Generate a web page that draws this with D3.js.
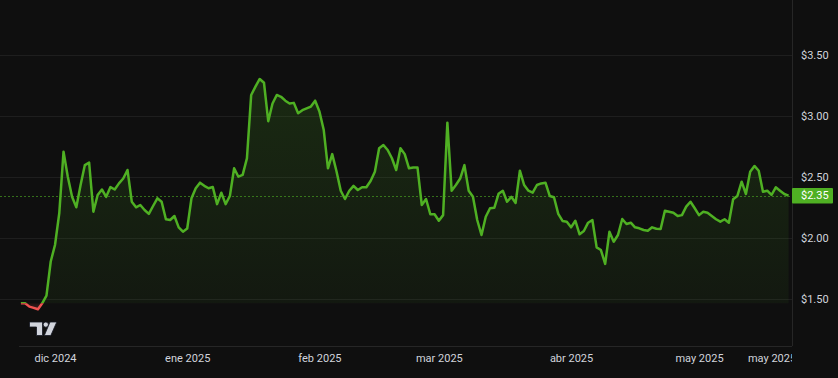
<!DOCTYPE html>
<html>
<head>
<meta charset="utf-8">
<script src="https://cdn.jsdelivr.net/npm/d3@7"></script>
<style>
  html, body { margin: 0; padding: 0; background: #0f0f0f; }
  #chart { width: 838px; height: 378px; }
</style>
</head>
<body>
<div id="chart"></div>
<script>
const width = 838;
const height = 378;
const plotRight = 792;
const plotBottom = 346;

// daily closes, first day = 23 nov 2024
const startDay = new Date(2024, 10, 23);
const prices = [
  1.467, 1.467, 1.44, 1.43, 1.418, 1.467, 1.53, 1.81, 1.945, 2.205,
  2.71, 2.505, 2.34, 2.254, 2.437, 2.60, 2.62, 2.218, 2.355, 2.40,
  2.34, 2.42, 2.40, 2.45, 2.49, 2.56, 2.30, 2.254, 2.273, 2.232,
  2.20, 2.265, 2.328, 2.30, 2.156, 2.15, 2.183, 2.09, 2.054, 2.08,
  2.328, 2.41, 2.456, 2.43, 2.41, 2.42, 2.28, 2.374, 2.28, 2.347,
  2.574, 2.505, 2.52, 2.655, 3.175, 3.243, 3.306, 3.275, 2.96, 3.105,
  3.175, 3.16, 3.128, 3.105, 3.11, 3.025, 3.05, 3.065, 3.08, 3.128,
  3.04, 2.89, 2.574, 2.69, 2.55, 2.39, 2.322, 2.39, 2.43, 2.396,
  2.418, 2.418, 2.47, 2.546, 2.738, 2.765, 2.724, 2.656, 2.56, 2.738,
  2.69, 2.574, 2.58, 2.58, 2.273, 2.322, 2.197, 2.197, 2.144, 2.19,
  2.948, 2.39, 2.437, 2.49, 2.60, 2.39, 2.34, 2.15, 2.027, 2.177,
  2.246, 2.25, 2.365, 2.39, 2.30, 2.34, 2.29, 2.554, 2.437, 2.39,
  2.374, 2.437, 2.45, 2.456, 2.347, 2.336, 2.20, 2.142, 2.136, 2.09,
  2.144, 2.033, 2.06, 2.128, 2.15, 1.926, 1.904, 1.79, 2.054, 1.972,
  2.027, 2.158, 2.117, 2.128, 2.09, 2.082, 2.068, 2.062, 2.09, 2.078,
  2.076, 2.226, 2.218, 2.21, 2.183, 2.19, 2.26, 2.30, 2.246, 2.19,
  2.218, 2.21, 2.183, 2.156, 2.136, 2.156, 2.128, 2.32, 2.347, 2.464,
  2.363, 2.546, 2.593, 2.554, 2.382, 2.39, 2.355, 2.418, 2.39, 2.363,
  2.35
];

const priceTicks = [1.5, 2.0, 2.5, 3.0, 3.5];
const timeTicks = [
  new Date(2024, 11, 1), new Date(2025, 0, 1), new Date(2025, 1, 1),
  new Date(2025, 2, 1), new Date(2025, 3, 1), new Date(2025, 4, 1),
  new Date(2025, 4, 18)
];
const timeLabels = ["dic 2024", "ene 2025", "feb 2025", "mar 2025", "abr 2025", "may 2025", "may 2025"];

const data = prices.map((p, i) => ({ date: d3.timeDay.offset(startDay, i), price: p }));
const base = prices[0];
const last = prices[prices.length - 1];

const green = "#4fb023";
const red = "#ef5350";
const font = "Roboto, 'DejaVu Sans', sans-serif";

const x = d3.scaleTime()
  .domain([new Date(2024, 11, 1), new Date(2025, 4, 1)])
  .range([55, 699]);

const y = d3.scaleLinear()
  .domain([1.5, 3.5])
  .range([299.3, 55.3]);

const svg = d3.select("#chart")
  .append("svg")
  .attr("width", width)
  .attr("height", height)
  .style("font-family", font);

svg.append("rect")
  .attr("width", width)
  .attr("height", height)
  .attr("fill", "#0f0f0f");

const defs = svg.append("defs");

defs.append("clipPath").attr("id", "above")
  .append("rect")
  .attr("x", 0).attr("y", 0)
  .attr("width", plotRight).attr("height", y(base));

defs.append("clipPath").attr("id", "below")
  .append("rect")
  .attr("x", 0).attr("y", y(base))
  .attr("width", plotRight).attr("height", plotBottom - y(base));

defs.append("clipPath").attr("id", "timeclip")
  .append("rect")
  .attr("x", 0).attr("y", 0)
  .attr("width", plotRight).attr("height", height);

const gTop = defs.append("linearGradient")
  .attr("id", "fillTop")
  .attr("gradientUnits", "userSpaceOnUse")
  .attr("x1", 0).attr("x2", 0)
  .attr("y1", y(d3.max(prices))).attr("y2", y(base));
gTop.append("stop").attr("offset", 0).attr("stop-color", green).attr("stop-opacity", 0.17);
gTop.append("stop").attr("offset", 1).attr("stop-color", green).attr("stop-opacity", 0.06);

const gBot = defs.append("linearGradient")
  .attr("id", "fillBot")
  .attr("gradientUnits", "userSpaceOnUse")
  .attr("x1", 0).attr("x2", 0)
  .attr("y1", y(base)).attr("y2", y(d3.min(prices)));
gBot.append("stop").attr("offset", 0).attr("stop-color", red).attr("stop-opacity", 0.05);
gBot.append("stop").attr("offset", 1).attr("stop-color", red).attr("stop-opacity", 0.25);

// horizontal grid
svg.append("g")
  .selectAll("line")
  .data(priceTicks)
  .enter()
  .append("line")
  .attr("x1", 0).attr("x2", plotRight)
  .attr("y1", d => Math.round(y(d)) + 0.5)
  .attr("y2", d => Math.round(y(d)) + 0.5)
  .attr("stroke", "#1e1e1e")
  .attr("stroke-width", 1);

// baseline area + line
const area = d3.area()
  .x(d => x(d.date))
  .y0(y(base))
  .y1(d => y(d.price));

const line = d3.line()
  .x(d => x(d.date))
  .y(d => y(d.price));

svg.append("path").datum(data)
  .attr("d", area).attr("fill", "url(#fillTop)")
  .attr("clip-path", "url(#above)");
svg.append("path").datum(data)
  .attr("d", area).attr("fill", "url(#fillBot)")
  .attr("clip-path", "url(#below)");

// last price dashed line
svg.append("line")
  .attr("x1", 0).attr("x2", plotRight)
  .attr("y1", Math.round(y(last)) + 0.5)
  .attr("y2", Math.round(y(last)) + 0.5)
  .attr("stroke", green)
  .attr("stroke-opacity", 0.6)
  .attr("stroke-width", 1)
  .attr("stroke-dasharray", "2,2");

svg.append("path").datum(data)
  .attr("d", line)
  .attr("fill", "none")
  .attr("stroke", green)
  .attr("stroke-width", 2.5)
  .attr("stroke-linejoin", "round")
  .attr("clip-path", "url(#above)");
svg.append("path").datum(data)
  .attr("d", line)
  .attr("fill", "none")
  .attr("stroke", red)
  .attr("stroke-width", 2.5)
  .attr("stroke-linejoin", "round")
  .attr("clip-path", "url(#below)");

// borders of the scales
svg.append("line")
  .attr("x1", 19).attr("x2", plotRight)
  .attr("y1", plotBottom + 0.5).attr("y2", plotBottom + 0.5)
  .attr("stroke", "#262626");
svg.append("line")
  .attr("x1", plotRight + 0.5).attr("x2", plotRight + 0.5)
  .attr("y1", 0).attr("y2", plotBottom)
  .attr("stroke", "#262626");

// price axis (right)
const yAxis = svg.append("g")
  .attr("transform", `translate(${plotRight},0)`)
  .call(d3.axisRight(y)
    .tickValues(priceTicks)
    .tickSize(0)
    .tickPadding(9)
    .tickFormat(d => "$" + d3.format(".2f")(d)));
yAxis.select(".domain").remove();
yAxis.selectAll("text")
  .attr("fill", "#d1d4dc")
  .style("font-size", "11px")
  .style("font-family", font);

// last price tag
svg.append("rect")
  .attr("x", plotRight)
  .attr("y", y(last) - 7.5)
  .attr("width", 41)
  .attr("height", 15.5)
  .attr("rx", 1)
  .attr("fill", green);
svg.append("text")
  .attr("x", plotRight + 9)
  .attr("y", y(last))
  .attr("dy", "0.35em")
  .attr("fill", "#ffffff")
  .style("font-size", "11px")
  .text("$" + d3.format(".2f")(last));

// time axis, last label cut at the price scale
const xAxis = svg.append("g")
  .attr("clip-path", "url(#timeclip)")
  .append("g")
  .attr("transform", `translate(0,${plotBottom})`)
  .call(d3.axisBottom(x)
    .tickValues(timeTicks)
    .tickSize(0)
    .tickPadding(8)
    .tickFormat((d, i) => timeLabels[i]));
xAxis.select(".domain").remove();
xAxis.selectAll("text")
  .attr("fill", "#d1d4dc")
  .style("font-size", "11px")
  .style("font-family", font);

// TradingView logo
const logo = svg.append("g")
  .attr("transform", "translate(29.5,322)")
  .attr("fill", "#d1d4dc")
  .attr("stroke", "#131722")
  .attr("stroke-width", 0.8);
logo.append("path").attr("d", "M0,0 H13 V13.5 H7 V5 H0 Z");
logo.append("circle").attr("cx", 16.3).attr("cy", 2.6).attr("r", 2.6);
logo.append("path").attr("d", "M20.5,0 H27.3 L21.3,13.5 H14.8 Z");
</script>
</body>
</html>
